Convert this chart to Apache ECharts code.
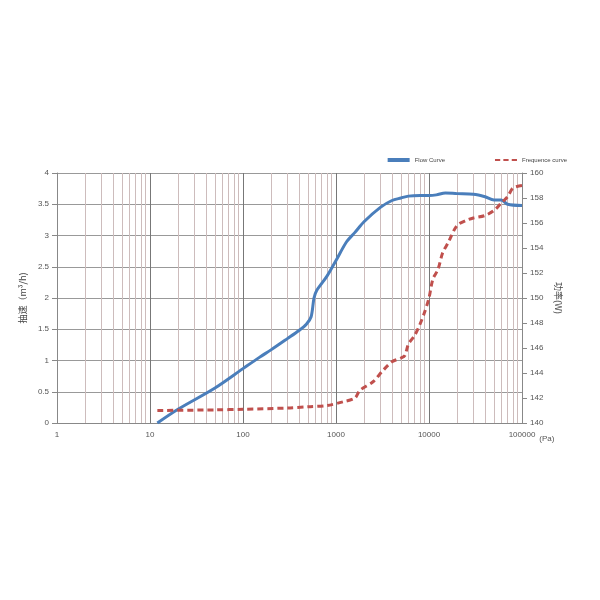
<!DOCTYPE html>
<html><head><meta charset="utf-8">
<script src="https://cdn.jsdelivr.net/npm/echarts@6/dist/echarts.min.js"></script>
<style>html,body{margin:0;background:#fff}#c{width:600px;height:600px}</style>
</head><body><div id="c"></div>
<script>
var flowX = [12, 20, 50, 100, 150, 200, 300, 400, 480, 540, 580, 620, 800, 1000, 1300, 1600, 2000, 3000, 4000, 5000, 6000, 8000, 10000, 12000, 15000, 20000, 30000, 40000, 50000, 60000, 70000, 100000];
var flowY = [0, 0.22, 0.56, 0.87, 1.05, 1.17, 1.35, 1.48, 1.58, 1.7, 2.0, 2.12, 2.35, 2.6, 2.9, 3.05, 3.22, 3.45, 3.56, 3.6, 3.63, 3.64, 3.64, 3.65, 3.68, 3.67, 3.66, 3.62, 3.57, 3.57, 3.5, 3.48];
var freqX = [12, 50, 100, 300, 500, 800, 1200, 1600, 1800, 2500, 3200, 4000, 5000, 5500, 6000, 7000, 8000, 9000, 10000, 11000, 12500, 14000, 16000, 20000, 25000, 30000, 40000, 50000, 60000, 70000, 80000, 100000];
var freqY = [141, 141.05, 141.1, 141.2, 141.3, 141.4, 141.7, 142.0, 142.6, 143.3, 144.2, 144.9, 145.2, 145.4, 146.3, 147.0, 147.9, 148.9, 150.0, 151.5, 152.3, 153.6, 154.4, 155.8, 156.2, 156.4, 156.6, 157.0, 157.6, 158.1, 158.8, 159.0];

var chart = echarts.init(document.getElementById('c'));
function pairs(xs, ys) { return xs.map(function (x, i) { return [x, ys[i]]; }); }
var lab = { color: '#555', fontSize: 8, fontFamily: 'Liberation Sans' };
chart.setOption({
  animation: false,
  legend: {
    top: 152, right: 28, itemWidth: 22, itemHeight: 4, itemGap: 50,
    textStyle: { fontSize: 6, color: '#444' },
    data: [{ name: 'Flow Curve', icon: 'rect' }, { name: 'Frequence curve', icon: 'path://M0,0h5v2h-5zM8,0h5v2h-5zM16,0h5v2h-5z' }]
  },
  grid: { left: 57, right: 78, top: 173, bottom: 177 },
  xAxis: {
    type: 'log', logBase: 10, min: 1, max: 100000,
    name: '(Pa)', nameGap: 8, nameTextStyle: { color: '#555', fontSize: 8, verticalAlign: 'top', padding: [12, 0, 0, 0] },
    axisLine: { lineStyle: { color: '#888' } }, axisTick: { show: false },
    axisLabel: Object.assign({ formatter: function (v) { return String(Math.round(v)); } }, lab),
    splitLine: { show: true, lineStyle: { color: '#777', width: 1 } },
    minorTick: { show: false, splitNumber: 9 },
    minorSplitLine: { show: true, lineStyle: { color: '#cdbcbc', width: 1 } }
  },
  yAxis: [{
    type: 'value', min: 0, max: 4, interval: 0.5,
    name: '抽速（m³/h)', nameLocation: 'middle', nameGap: 25,
    nameTextStyle: { color: '#444', fontSize: 9, fontFamily: 'Noto Sans CJK SC' },
    axisLine: { show: true, lineStyle: { color: '#888' } }, axisLabel: lab,
    splitLine: { lineStyle: { color: '#999' } }
  }, {
    type: 'value', min: 140, max: 160, interval: 2,
    name: '功率(W)', nameLocation: 'middle', nameGap: 32, nameRotate: -90,
    nameTextStyle: { color: '#444', fontSize: 9, fontFamily: 'Noto Sans CJK SC' },
    axisLine: { show: true, lineStyle: { color: '#888' } }, axisLabel: lab,
    splitLine: { show: false }
  }],
  series: [{
    name: 'Flow Curve', type: 'line', smooth: 0.3, showSymbol: false,
    data: pairs(flowX, flowY), color: '#4a7ebb', lineStyle: { width: 3 }
  }, {
    name: 'Frequence curve', type: 'line', smooth: 0.3, showSymbol: false, yAxisIndex: 1,
    data: pairs(freqX, freqY), color: '#c0504d', lineStyle: { width: 3, type: [6, 4] }
  }]
});
</script></body></html>
